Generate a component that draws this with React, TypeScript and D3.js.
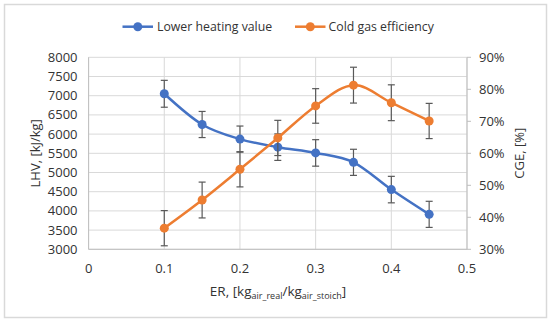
import React from "react";
import * as d3 from "d3";

const er = [0.1, 0.15, 0.2, 0.25, 0.3, 0.35, 0.4, 0.45];
const lhv = [7050, 6250, 5870, 5660, 5510, 5265, 4555, 3910];
const lhvErr = [350, 340, 340, 345, 345, 340, 345, 340];
const cge = [36.6, 45.4, 55.0, 64.8, 74.8, 81.3, 75.8, 70.1];
const cgeErr = [5.5, 5.6, 5.5, 5.5, 5.4, 5.6, 5.6, 5.5];
const xTicks = [0, 0.1, 0.2, 0.3, 0.4, 0.5];
const lhvTicks = [3000, 3500, 4000, 4500, 5000, 5500, 6000, 6500, 7000, 7500, 8000];
const cgeTicks = [30, 40, 50, 60, 70, 80, 90];
const seriesNames = ["Lower heating value", "Cold gas efficiency"];

const BLUE = "#4472C4";
const ORANGE = "#ED7D31";
const FONT = "'Open Sans', sans-serif";

export default function App() {
  const W = 550, H = 324;
  const left = 88.6, right = 467, top = 57.3, bottom = 249.3;
  const x = d3.scaleLinear().domain([0, 0.5]).range([left, right]);
  const yL = d3.scaleLinear().domain([3000, 8000]).range([bottom, top]);
  const yR = d3.scaleLinear().domain([30, 90]).range([bottom, top]);
  const curve = d3.curveCardinal.tension(0);
  const lineL = d3.line<number>().x((_, i) => x(er[i])).y((d) => yL(d)).curve(curve);
  const lineR = d3.line<number>().x((_, i) => x(er[i])).y((d) => yR(d)).curve(curve);
  const grid = "#d9d9d9";
  const errCol = "#595959";
  const cap = 3.5;
  const txt = "#333333";

  const errBars = (vals: number[], errs: number[], y: any) =>
    vals.map((v, i) => {
      const cx = x(er[i]);
      const y1 = y(v + errs[i]);
      const y2 = y(v - errs[i]);
      return (
        <g key={i} stroke={errCol} strokeWidth={1.2}>
          <line x1={cx} x2={cx} y1={y1} y2={y2} />
          <line x1={cx - cap} x2={cx + cap} y1={y1} y2={y1} />
          <line x1={cx - cap} x2={cx + cap} y1={y2} y2={y2} />
        </g>
      );
    });

  return (
    <svg width={W} height={H} style={{ position: "absolute", left: 0, top: 0, background: "#fff" }} fontFamily={FONT}>
      <rect x={4.5} y={4.5} width={542} height={313} fill="#fff" stroke="#d9d9d9" strokeWidth={1.5} />
      {/* grid */}
      {lhvTicks.map((t) => (
        <line key={"h" + t} x1={left} x2={right} y1={yL(t)} y2={yL(t)} stroke={grid} strokeWidth={1} />
      ))}
      {xTicks.map((t) => (
        <line key={"v" + t} x1={x(t)} x2={x(t)} y1={top} y2={bottom} stroke={grid} strokeWidth={1} />
      ))}
      {/* axes */}
      <line x1={left} x2={left} y1={top} y2={bottom} stroke="#bfbfbf" />
      <line x1={left} x2={right} y1={bottom} y2={bottom} stroke="#bfbfbf" />
      <line x1={right} x2={right} y1={top} y2={bottom} stroke="#bfbfbf" />
      {cgeTicks.map((t) => (
        <line key={"rt" + t} x1={right} x2={right + 4} y1={yR(t)} y2={yR(t)} stroke="#bfbfbf" />
      ))}
      {/* tick labels */}
      {lhvTicks.map((t) => (
        <text key={"ll" + t} x={77.5} y={yL(t)} dy="0.35em" textAnchor="end" fontSize={13} fill={txt}>
          {t}
        </text>
      ))}
      {cgeTicks.map((t) => (
        <text key={"rl" + t} x={479} y={yR(t)} dy="0.35em" textAnchor="start" fontSize={13} fill={txt}>
          {t + "%"}
        </text>
      ))}
      {xTicks.map((t) => (
        <text key={"xl" + t} x={x(t)} y={268.5} dy="0.35em" textAnchor="middle" fontSize={13} fill={txt}>
          {String(t)}
        </text>
      ))}
      {/* axis titles */}
      <text transform={`translate(35,${(top + bottom) / 2}) rotate(-90)`} textAnchor="middle" dy="0.35em" fontSize={13} fill={txt}>
        LHV, [kJ/kg]
      </text>
      <text transform={`translate(519,${(top + bottom) / 2}) rotate(-90)`} textAnchor="middle" dy="0.35em" fontSize={13} fill={txt}>
        CGE, [%]
      </text>
      <text x={278} y={296} textAnchor="middle" fontSize={13.5} fill={txt}>
        ER, [kg
        <tspan fontSize={9} dy={3}>air_real</tspan>
        <tspan dy={-3}>/kg</tspan>
        <tspan fontSize={9} dy={3}>air_stoich</tspan>
        <tspan dy={-3}>]</tspan>
      </text>
      {/* LHV series */}
      <path d={lineL(lhv) || ""} fill="none" stroke={BLUE} strokeWidth={2.5} />
      {errBars(lhv, lhvErr, yL)}
      {lhv.map((v, i) => (
        <circle key={"lm" + i} cx={x(er[i])} cy={yL(v)} r={4.5} fill={BLUE} />
      ))}
      {/* CGE series */}
      <path d={lineR(cge) || ""} fill="none" stroke={ORANGE} strokeWidth={2.5} />
      {errBars(cge, cgeErr, yR)}
      {cge.map((v, i) => (
        <circle key={"cm" + i} cx={x(er[i])} cy={yR(v)} r={4.5} fill={ORANGE} />
      ))}
      {/* legend */}
      <g>
        <line x1={122.5} x2={153} y1={26.7} y2={26.7} stroke={BLUE} strokeWidth={2.5} />
        <circle cx={137.8} cy={26.7} r={4.5} fill={BLUE} />
        <text x={157} y={26.7} dy="0.35em" fontSize={12.3} fill={txt}>{seriesNames[0]}</text>
        <line x1={295} x2={325.5} y1={26.7} y2={26.7} stroke={ORANGE} strokeWidth={2.5} />
        <circle cx={310.3} cy={26.7} r={4.5} fill={ORANGE} />
        <text x={328.5} y={26.7} dy="0.35em" fontSize={12.3} fill={txt}>{seriesNames[1]}</text>
      </g>
    </svg>
  );
}
